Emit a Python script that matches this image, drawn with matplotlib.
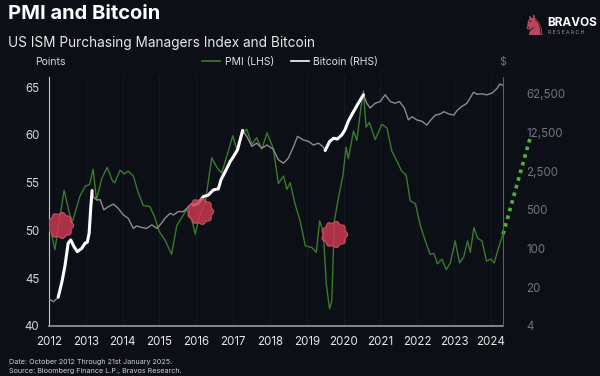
import numpy as np
import matplotlib
matplotlib.use("Agg")
import matplotlib.pyplot as plt
from matplotlib.lines import Line2D
from matplotlib.path import Path

# PMI (left axis)
pmi_years = [2012.07, 2012.16, 2012.41, 2012.62, 2012.84, 2012.98, 2013.10, 2013.20,
             2013.29, 2013.43, 2013.58, 2013.72, 2013.79, 2013.93, 2014.04, 2014.15,
             2014.29, 2014.42, 2014.56, 2014.74, 2014.88, 2014.99, 2015.15, 2015.33,
             2015.47, 2015.60, 2015.74, 2015.90, 2015.97, 2016.10, 2016.24, 2016.42,
             2016.56, 2016.69, 2016.87, 2016.99, 2017.10, 2017.19, 2017.37, 2017.51,
             2017.64, 2017.78, 2017.92, 2018.09, 2018.23, 2018.37, 2018.46, 2018.55,
             2018.68, 2018.82, 2018.96, 2019.14, 2019.26, 2019.35, 2019.45, 2019.53,
             2019.62, 2019.68, 2019.75, 2019.86, 2019.98, 2020.07, 2020.13, 2020.27,
             2020.36, 2020.47, 2020.54, 2020.61, 2020.70, 2020.86, 2021.04, 2021.18,
             2021.31, 2021.43, 2021.58, 2021.70, 2021.81, 2021.95, 2022.08, 2022.22,
             2022.35, 2022.45, 2022.55, 2022.67, 2022.79, 2022.90, 2023.03, 2023.15,
             2023.26, 2023.37, 2023.44, 2023.54, 2023.64, 2023.76, 2023.88, 2024.00,
             2024.09, 2024.21, 2024.33]
pmi_values = [49.6, 48.0, 54.2, 50.7, 53.6, 54.6, 54.8, 56.4,
              53.2, 55.4, 56.6, 55.2, 55.0, 56.3, 55.9, 56.2,
              55.7, 54.0, 52.6, 52.5, 51.3, 49.9, 49.0, 47.5,
              50.5, 51.3, 52.2, 50.8, 49.6, 51.7, 52.8, 57.6,
              56.6, 56.0, 58.3, 59.9, 58.5, 59.7, 60.6, 59.0,
              59.7, 58.5, 60.2, 58.6, 54.9, 55.7, 54.3, 55.0,
              52.8, 51.0, 48.4, 48.2, 47.7, 51.0, 49.9, 44.4,
              41.8, 42.6, 51.0, 53.4, 55.7, 58.7, 57.5, 60.4,
              59.4, 62.8, 64.6, 60.8, 61.3, 59.5, 61.1, 60.7,
              58.3, 57.4, 56.2, 55.8, 53.1, 52.8, 50.6, 48.9,
              47.5, 47.6, 46.5, 47.0, 45.9, 46.6, 48.9, 46.6,
              47.2, 48.9, 47.7, 50.3, 49.2, 48.9, 46.8, 47.0,
              46.6, 48.2, 49.6]

# Bitcoin price in $ (right axis, log)
btc_years = [2012.01, 2012.12, 2012.25, 2012.35, 2012.43, 2012.52, 2012.59, 2012.68,
             2012.77, 2012.89, 2012.98, 2013.04, 2013.09, 2013.13, 2013.17, 2013.20,
             2013.30, 2013.39, 2013.49, 2013.61, 2013.75, 2013.88, 2014.02, 2014.15,
             2014.29, 2014.38, 2014.52, 2014.65, 2014.79, 2014.93, 2015.02, 2015.15,
             2015.29, 2015.38, 2015.51, 2015.65, 2015.79, 2015.88, 2015.92, 2016.06,
             2016.19, 2016.33, 2016.46, 2016.60, 2016.67, 2016.81, 2016.92, 2017.01,
             2017.12, 2017.26, 2017.37, 2017.51, 2017.64, 2017.78, 2017.92, 2018.09,
             2018.23, 2018.37, 2018.50, 2018.64, 2018.75, 2018.91, 2019.05, 2019.18,
             2019.32, 2019.44, 2019.50, 2019.62, 2019.73, 2019.83, 2019.95, 2020.04,
             2020.13, 2020.27, 2020.40, 2020.54, 2020.63, 2020.72, 2020.86, 2020.99,
             2021.13, 2021.27, 2021.40, 2021.52, 2021.65, 2021.76, 2021.86, 2021.99,
             2022.13, 2022.26, 2022.37, 2022.49, 2022.63, 2022.73, 2022.85, 2022.99,
             2023.10, 2023.21, 2023.35, 2023.46, 2023.53, 2023.62, 2023.76, 2023.89,
             2024.03, 2024.17, 2024.24, 2024.33]
btc_prices = [12.2, 11.0, 13.2, 25, 47, 125, 143, 108,
              88, 101, 125, 130, 189, 500, 1117, 865,
              753, 760, 500, 570, 635, 532, 404, 352,
              231, 256, 240, 231, 268, 231, 268, 352,
              433, 404, 465, 465, 570, 657, 600, 657,
              865, 927, 1140, 1200, 1737, 2630, 3720, 4580,
              6080, 13600, 10600, 7000, 8000, 6500, 7400, 6200,
              4000, 3480, 4300, 6900, 10600, 9100, 8600, 7400,
              8000, 6900, 5900, 8560, 9800, 9500, 11200, 14000,
              20000, 29600, 42000, 59600, 42000, 34500, 42000, 45000,
              59600, 45000, 42000, 45000, 34500, 21000, 24000, 21000,
              19800, 17000, 21000, 25600, 27000, 29600, 27000, 25600,
              32000, 36600, 42000, 55700, 66500, 61000, 62000, 59600,
              64000, 78000, 93000, 89000]

# highlighted Bitcoin runs (start, end)
btc_runs = [(2012.25, 2013.17), (2015.92, 2017.26), (2019.50, 2020.54)]

# green projection and red markers (PMI units)
proj_years = [2024.33, 2025.09]
proj_values = [49.6, 60.0]
mark_years = [2012.30, 2016.10, 2019.74]
mark_values = [50.6, 52.0, 49.6]

left_ticks = [40, 45, 50, 55, 60, 65]
right_ticks = [4, 20, 100, 500, 2500, 12500, 62500]
year_ticks = list(range(2012, 2025))

BG = "#0d0f17"
plt.rcParams["font.family"] = ["Inter", "DejaVu Sans"]

fig = plt.figure(figsize=(6, 3.76), dpi=100, facecolor=BG)
ax = fig.add_axes([49 / 600, 50 / 376, 454 / 600, 249 / 376])
ax.set_facecolor(BG)
ax2 = ax.twinx()

ax.set_xlim(2012, 2024.33)
ax.set_ylim(40, 66.05)
ax2.set_yscale("log")
ax2.set_ylim(4, 125000)

for x in year_ticks:
    ax.axvline(x, color="#151923", lw=0.8, zorder=0)

ax.plot(pmi_years, pmi_values, color="#3a7a2c", lw=1.0, zorder=2)
ax.plot(proj_years, proj_values, color="#4fb43c", lw=2.6, ls=(0, (1, 1.2)),
        clip_on=False, zorder=3)

bx = np.array(btc_years)
by = np.array(btc_prices)
ax2.plot(bx, by, color="#8c8c8c", lw=1.0, zorder=2)
for start, end in btc_runs:
    m = (bx >= start - 1e-6) & (bx <= end + 1e-6)
    ax2.plot(bx[m], by[m], color="white", lw=2.2, solid_capstyle="round", zorder=3)

# scalloped blob marker
t = np.linspace(0, 2 * np.pi, 121)
r = 1 + 0.07 * np.cos(9 * t)
blob = Path(np.column_stack([r * np.cos(t), r * np.sin(t)]), closed=True)
ax2.plot(mark_years, mark_values, ls="none", marker=blob, ms=19,
         mfc="#c8384f", mec="#e0556a", mew=0.8, alpha=0.85,
         transform=ax.transData, zorder=4)

# axes styling
for s in ["top"]:
    ax.spines[s].set_visible(False)
    ax2.spines[s].set_visible(False)
ax.spines["left"].set_color("#c8c8c8")
ax.spines["bottom"].set_color("#9a9a9a")
ax.spines["bottom"].set_linewidth(1.2)
ax2.spines["right"].set_color("#5c606a")
ax2.spines["left"].set_visible(False)
ax2.spines["bottom"].set_visible(False)

ax.set_xticks(year_ticks)
ax.set_xticklabels([str(y) for y in year_ticks])
ax.set_yticks(left_ticks)
ax.tick_params(axis="x", length=0, pad=7, labelsize=8.3, labelcolor="#e6e6e6")
ax.tick_params(axis="y", length=0, pad=7, labelsize=8.3, labelcolor="#d8d8d8")
ax2.set_yticks(right_ticks)
ax2.set_yticklabels([f"{v:,}" for v in right_ticks])
ax2.yaxis.set_minor_locator(matplotlib.ticker.NullLocator())
ax2.tick_params(axis="y", length=0, pad=17, labelsize=8.3, labelcolor="#6f7480")

# titles and labels
fig.text(8 / 600, 1 - 14 / 376, "PMI and Bitcoin", color="white", fontsize=14.5,
         fontweight="bold", va="center", ha="left")
fig.text(8 / 600, 1 - 43 / 376, "US ISM Purchasing Managers Index and Bitcoin",
         color="#e8e8e8", fontsize=9.8, va="center", ha="left")
fig.text(35 / 600, 1 - 62 / 376, "Points", color="#d8d8d8", fontsize=7.5,
         va="center", ha="left")
fig.text(503 / 600, 1 - 62 / 376, "$", color="#6f7480", fontsize=7.5,
         va="center", ha="center")

handles = [Line2D([], [], color="#3a7a2c", lw=1.2),
           Line2D([], [], color="white", lw=1.2)]
leg = fig.legend(handles, ["PMI (LHS)", "Bitcoin (RHS)"], loc="center",
                 bbox_to_anchor=(290 / 600, 1 - 62 / 376), ncol=2, frameon=False,
                 fontsize=7.5, handlelength=1.8, handletextpad=0.4, columnspacing=1.6)
for txt in leg.get_texts():
    txt.set_color("#e0e0e0")

# logo
fig.text(534 / 600, 1 - 27 / 376, "\u265e", color="#b8485c", fontsize=20,
         family=["DejaVu Sans"], va="center", ha="center")
fig.text(547 / 600, 1 - 23 / 376, "BRAVOS", color="white", fontsize=8.5,
         fontweight="bold", va="center", ha="left")
fig.text(548 / 600, 1 - 33 / 376, "R E S E A R C H", color="#9a9a9a", fontsize=3.6,
         va="center", ha="left")

# footnotes
fig.text(9 / 600, 1 - 362 / 376, "Date: October 2012 Through 21st January 2025.",
         color="#d0d0d0", fontsize=5.2, va="center", ha="left")
fig.text(9 / 600, 1 - 370.5 / 376, "Source: Bloomberg Finance L.P., Bravos Research.",
         color="#d0d0d0", fontsize=5.2, va="center", ha="left")

fig.savefig("out.png", dpi=100, facecolor=BG)
